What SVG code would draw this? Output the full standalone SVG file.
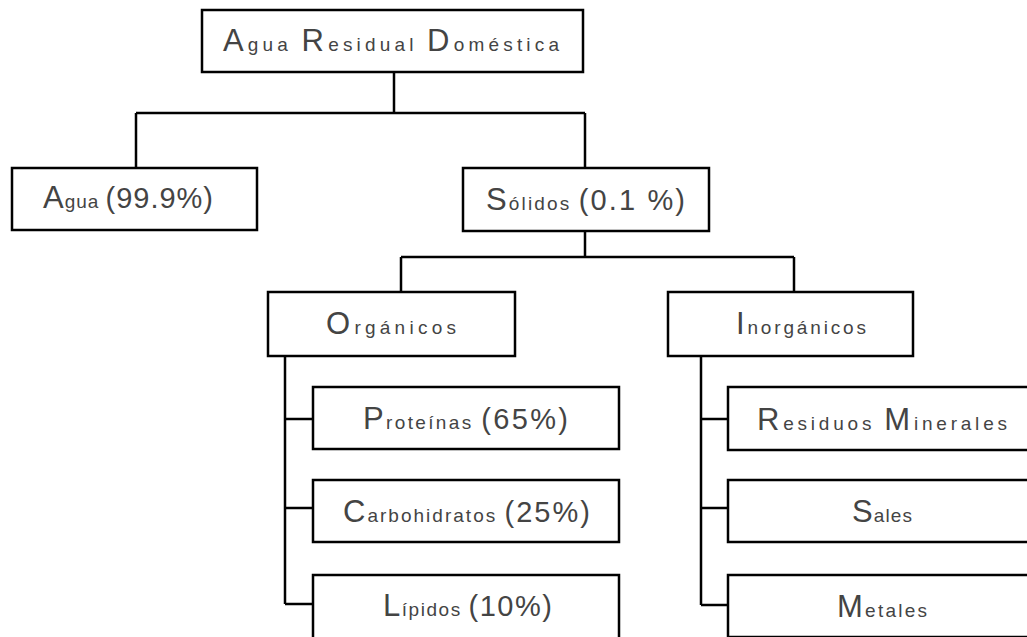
<svg xmlns="http://www.w3.org/2000/svg" width="1027" height="637" viewBox="0 0 1027 637">
<style>
.box{fill:#fff;stroke:#000;stroke-width:2.5}
.con{fill:none;stroke:#000;stroke-width:2.5}
text{font-family:"Liberation Sans",Arial,sans-serif;fill:#444}
.u{font-size:31px}
.l{font-size:19px}
.d{font-size:29px}
</style>
<rect width="1027" height="637" fill="#fff"/>
<g id="connectors" class="con">
<path d="M394 72V113M136 113H585M136 113V168M585 113V168"/>
<path d="M585 231V257M401 257H794M401 257V292M794 257V292"/>
<path d="M285 356V604M285 419H313M285 508H313M285 604H313"/>
<path d="M701 356V605M701 419H728M701 508H728M701 605H728"/>
</g>
<g id="n-root"><rect class="box" x="202" y="10" width="381" height="62"/>
<text x="223" y="51" textLength="336" lengthAdjust="spacing"><tspan class="u">A</tspan><tspan class="l">gua </tspan><tspan class="u">R</tspan><tspan class="l">esidual </tspan><tspan class="u">D</tspan><tspan class="l">oméstica</tspan></text></g>
<g id="n-agua"><rect class="box" x="12" y="168" width="245" height="62"/>
<text x="43" y="208" textLength="170" lengthAdjust="spacing"><tspan class="u">A</tspan><tspan class="l">gua </tspan><tspan class="d">(99.9%)</tspan></text></g>
<g id="n-solidos"><rect class="box" x="463" y="168" width="246" height="63"/>
<text x="486" y="210" textLength="199" lengthAdjust="spacing"><tspan class="u">S</tspan><tspan class="l">ólidos </tspan><tspan class="d">(0.1 %)</tspan></text></g>
<g id="n-organicos"><rect class="box" x="268" y="292" width="247" height="64"/>
<text x="326" y="334" textLength="130" lengthAdjust="spacing"><tspan class="u">O</tspan><tspan class="l">rgánicos</tspan></text></g>
<g id="n-inorganicos"><rect class="box" x="668" y="292" width="245" height="64"/>
<text x="736" y="334" textLength="130" lengthAdjust="spacing"><tspan class="u">I</tspan><tspan class="l">norgánicos</tspan></text></g>
<g id="n-proteinas"><rect class="box" x="313" y="387" width="306" height="62"/>
<text x="363" y="429" textLength="205" lengthAdjust="spacing"><tspan class="u">P</tspan><tspan class="l">roteínas </tspan><tspan class="d">(65%)</tspan></text></g>
<g id="n-carbohidratos"><rect class="box" x="313" y="480" width="306" height="62"/>
<text x="343" y="522" textLength="247" lengthAdjust="spacing"><tspan class="u">C</tspan><tspan class="l">arbohidratos </tspan><tspan class="d">(25%)</tspan></text></g>
<g id="n-lipidos"><rect class="box" x="313" y="575" width="306" height="64"/>
<text x="383" y="616" textLength="169" lengthAdjust="spacing"><tspan class="u">L</tspan><tspan class="l">ípidos </tspan><tspan class="d">(10%)</tspan></text></g>
<g id="n-residuos"><rect class="box" x="728" y="387" width="310" height="63"/>
<text x="757" y="430" textLength="250" lengthAdjust="spacing"><tspan class="u">R</tspan><tspan class="l">esiduos </tspan><tspan class="u">M</tspan><tspan class="l">inerales</tspan></text></g>
<g id="n-sales"><rect class="box" x="728" y="480" width="310" height="62"/>
<text x="852" y="522" textLength="60" lengthAdjust="spacing"><tspan class="u">S</tspan><tspan class="l">ales</tspan></text></g>
<g id="n-metales"><rect class="box" x="728" y="575" width="310" height="62"/>
<text x="837" y="617" textLength="90" lengthAdjust="spacing"><tspan class="u">M</tspan><tspan class="l">etales</tspan></text></g>
</svg>
